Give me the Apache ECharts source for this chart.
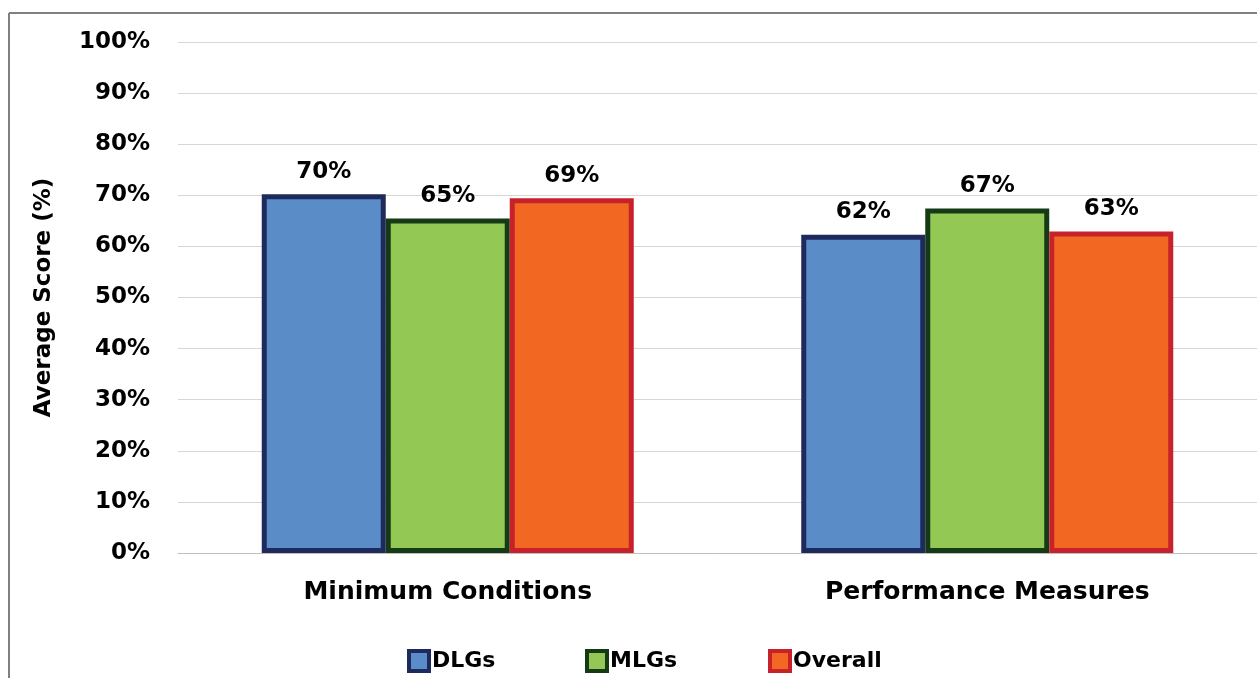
<!DOCTYPE html>
<html>
<head>
<meta charset="utf-8">
<script src="https://cdn.jsdelivr.net/npm/echarts@6/dist/echarts.min.js"></script>
<style>html,body{margin:0;padding:0;background:#fff}#c{width:1257px;height:678px}</style>
</head>
<body>
<div id="c"></div>
<script>
const categories = ['Minimum Conditions', 'Performance Measures'];
const seriesNames = ['DLGs', 'MLGs', 'Overall'];
const dlgs = [70.2, 62.3];
const mlgs = [65.45, 67.4];
const overall = [69.4, 62.9];
const yTicks = [0, 10, 20, 30, 40, 50, 60, 70, 80, 90, 100];

const fills = ['#5A8DC8', '#92C853', '#F26722'];
const borders = ['#1F2A5C', '#163A16', '#C7212B'];
const FONT = 'DejaVu Sans';

const chart = echarts.init(document.getElementById('c'), null, {renderer: 'canvas'});
const values = [dlgs, mlgs, overall];
const legendLefts = [402, 580, 763];

chart.setOption({
  animation: false,
  backgroundColor: '#fff',
  grid: {left: 178, right: 0, top: 42, bottom: 125, containLabel: false},
  graphic: [
    {type: 'line', shape: {x1: 9, y1: 13, x2: 1257, y2: 13}, style: {stroke: '#808080', lineWidth: 2}},
    {type: 'line', shape: {x1: 9, y1: 13, x2: 9, y2: 678}, style: {stroke: '#808080', lineWidth: 2}}
  ],
  legend: seriesNames.map((n, i) => ({
    data: [{name: n, itemStyle: {color: fills[i], borderColor: borders[i], borderWidth: 4}}],
    left: legendLefts[i], top: 644,
    icon: 'rect', itemWidth: 20, itemHeight: 20, itemGap: 4,
    textStyle: {fontFamily: FONT, fontWeight: 'bold', fontSize: 22, color: '#000', padding: [0, 0, 0, -2]}
  })),
  xAxis: {
    type: 'category', data: categories,
    axisLine: {lineStyle: {color: '#bfbfbf', width: 1}},
    axisTick: {show: false},
    axisLabel: {fontFamily: FONT, fontWeight: 'bold', fontSize: 25, color: '#000', margin: 27}
  },
  yAxis: {
    type: 'value', min: 0, max: 100, interval: 10,
    name: 'Average Score (%)', nameLocation: 'middle', nameGap: 122,
    nameTextStyle: {fontFamily: FONT, fontWeight: 'bold', fontSize: 23, color: '#000'},
    axisLine: {show: false}, axisTick: {show: false},
    axisLabel: {fontFamily: FONT, fontWeight: 'bold', fontSize: 23, color: '#000', margin: 28,
      formatter: v => yTicks.includes(v) ? v + '%' : ''},
    splitLine: {lineStyle: {color: '#d6d6d6', width: 1}}
  },
  series: seriesNames.map((n, i) => ({
    name: n, type: 'bar', data: values[i],
    barWidth: 124, barGap: '0%',
    itemStyle: {color: fills[i], borderColor: borders[i], borderWidth: 5},
    label: {show: true, position: 'top', distance: 11, fontFamily: FONT, fontWeight: 'bold', fontSize: 23, color: '#000',
      formatter: p => Math.round(p.value) + '%'}
  }))
});
</script>
</body>
</html>
